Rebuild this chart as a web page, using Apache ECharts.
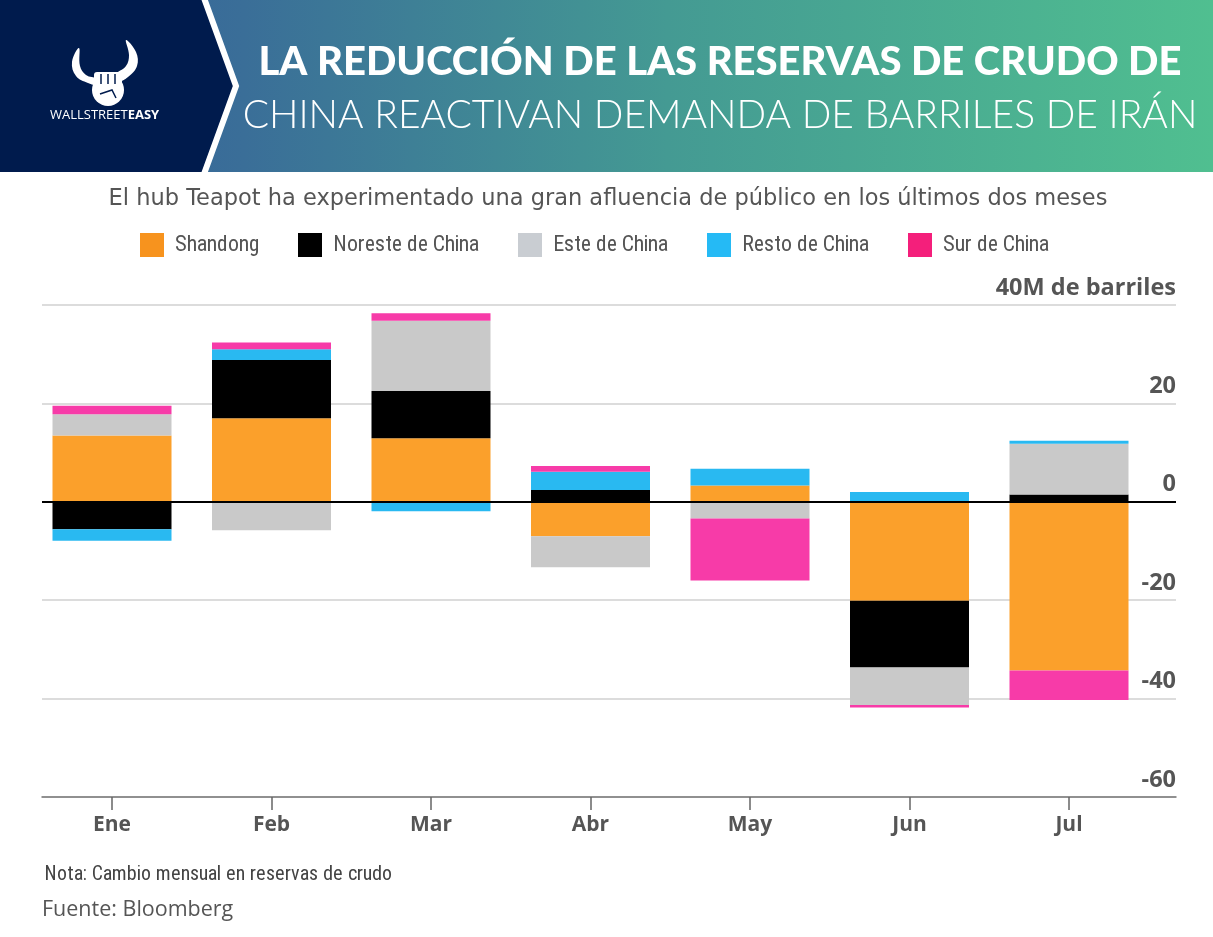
<!DOCTYPE html>
<html>
<head>
<meta charset="utf-8">
<script src="https://cdn.jsdelivr.net/npm/echarts@6/dist/echarts.min.js"></script>
<style>
html,body{margin:0;padding:0;background:#fff;}
#chart{width:1213px;height:937px;}
@font-face{
  font-family:'CondX';
  src: local('Roboto Condensed'), local('RobotoCondensed-Regular'),
       local('Liberation Sans Narrow'), local('LiberationSansNarrow-Regular'), local('LiberationSansNarrow'),
       local('DejaVu Sans Condensed'), local('DejaVuSansCondensed');
}
</style>
</head>
<body>
<div id="chart"></div>
<script>
const categories = ['Ene','Feb','Mar','Abr','May','Jun','Jul'];
const seriesNames = ['Shandong','Noreste de China','Este de China','Resto de China','Sur de China'];
const shandong = [13.5, 17.0, 12.9, -7.0, 3.3, -20.1, -34.3];
const noreste  = [-5.6, 11.8, 9.6, 2.4, 0, -13.6, 1.5];
const este     = [4.3, -5.8, 14.3, -6.3, -3.4, -7.6, 10.3];
const resto    = [-2.3, 2.2, -1.9, 3.7, 3.4, 2.0, 0.6];
const sur      = [1.7, 1.4, 1.5, 1.2, -12.6, -0.5, -6.0];
const yTicks = [-60, -40, -20, 0, 20, 40];
const yUnitLabel = '40M de barriles';

const titleLine1 = 'LA REDUCCIÓN DE LAS RESERVAS DE CRUDO DE';
const titleLine2 = 'CHINA REACTIVAN DEMANDA DE BARRILES DE IRÁN';
const subtitle = 'El hub Teapot ha experimentado una gran afluencia de público en los últimos dos meses';
const note = 'Nota: Cambio mensual en reservas de crudo';
const source = 'Fuente: Bloomberg';

const barColors = ['#FBA02B','#000000','#C9C9C9','#29B9F1','#F73BA8'];
const legendColors = ['#F7931E','#000000','#C9CDD2','#25BAF5','#F41F7B'];
const allData = [shandong, noreste, este, resto, sur];

const condensed = 'CondX,"Roboto Condensed","Liberation Sans Narrow","DejaVu Sans Condensed",sans-serif';
const openSans = '"Open Sans","Noto Sans",sans-serif';

function draw(){
const chart = echarts.init(document.getElementById('chart'), null, {renderer:'canvas'});
const barSeries = seriesNames.map((n,i)=>({
  name:n, type:'bar', stack:'total', xAxisIndex:0, yAxisIndex:0,
  data: allData[i], barWidth:119,
  itemStyle:{color:barColors[i]},
  emphasis:{disabled:true}
}));

const option = {
  animation:false,
  backgroundColor:'#ffffff',
  textStyle:{fontFamily:openSans},
  legend:{
    data: seriesNames.map((n,i)=>({name:n, itemStyle:{color:legendColors[i]}})),
    left:140, top:233, padding:0, itemWidth:24, itemHeight:24, itemGap:39,
    icon:'rect',
    textStyle:{fontFamily:condensed, fontSize:22, color:'#555', padding:[0,0,0,6]},
    selectedMode:false
  },
  grid:[
    {left:32.25, width:1116.5, top:305, height:492},
    {left:42, width:1134, top:305, height:492}
  ],
  xAxis:[
    {type:'category', gridIndex:0, data:categories, position:'bottom',
     axisLine:{show:false, onZero:false},
     axisTick:{show:true, alignWithLabel:true, length:13, lineStyle:{color:'#666', width:1.5}},
     axisLabel:{fontFamily:openSans, fontWeight:'bold', fontSize:21, color:'#555', margin:18},
     splitLine:{show:false}},
    {type:'value', gridIndex:1, min:0, max:1, position:'bottom',
     axisLine:{show:true, onZero:false, lineStyle:{color:'#777', width:1.5}},
     axisTick:{show:false}, axisLabel:{show:false}, splitLine:{show:false}}
  ],
  yAxis:[
    {type:'value', gridIndex:0, min:-60, max:40, interval:20, show:false},
    {type:'value', gridIndex:1, min:-60, max:40, interval:20, position:'right',
     axisLine:{show:false}, axisTick:{show:false},
     splitLine:{show:true, lineStyle:{color:'#D0D0D0', width:1.5}},
     axisLabel:{inside:true, margin:0, verticalAlign:'bottom', padding:[0,0,5,0],
       fontFamily:openSans, fontWeight:'bold', fontSize:23.5, color:'#555',
       formatter:(v)=> yTicks.includes(v) ? (v===40 ? yUnitLabel : String(v)) : ''}}
  ],
  series:[
    ...barSeries,
    {name:'zero', type:'line', xAxisIndex:1, yAxisIndex:1, data:[], silent:true, z:10,
     markLine:{silent:true, symbol:'none', label:{show:false},
       lineStyle:{color:'#000', width:2, type:'solid'}, data:[{yAxis:0}], z:10}}
  ],
  graphic:[
    {type:'rect', left:0, top:0, z:-1, shape:{x:0,y:0,width:1213,height:172},
     style:{fill:new echarts.graphic.LinearGradient(0,0,1,0,[
       {offset:0,color:'#35609C'},{offset:0.2,color:'#3A6E98'},{offset:0.55,color:'#449A93'},{offset:1,color:'#50BF90'}])}},
    {type:'polygon', z:1, shape:{points:[[0,0],[202,0],[234,86],[202,172],[0,172]]},
     style:{fill:'#001B4D'}},
    {type:'polyline', z:2, shape:{points:[[204,-2],[236,86],[204,174]]},
     style:{stroke:'#ffffff', lineWidth:6, fill:null}},
    {type:'polygon', z:3, shape:{smooth:0.4, points:[[79,48],[72,62],[76,76],[88,83],[97,85],[97,79],[86,75],[80,66]]}, style:{fill:'#fff'}},
    {type:'polygon', z:3, shape:{smooth:0.4, points:[[126,40],[136,52],[137,66],[128,77],[117,82],[115,75],[126,66],[129,55]]}, style:{fill:'#fff'}},
    {type:'circle', z:3, shape:{cx:108, cy:90, r:16}, style:{fill:'#fff'}},
    {type:'rect', z:3, shape:{x:94,y:72,width:28,height:14, r:3}, style:{fill:'#fff'}},
    {type:'line', z:4, shape:{x1:101,y1:74,x2:101,y2:84}, style:{stroke:'#001B4D', lineWidth:1.5}},
    {type:'line', z:4, shape:{x1:108,y1:74,x2:108,y2:84}, style:{stroke:'#001B4D', lineWidth:1.5}},
    {type:'line', z:4, shape:{x1:115,y1:74,x2:115,y2:84}, style:{stroke:'#001B4D', lineWidth:1.5}},
    {type:'polyline', z:4, shape:{points:[[100,94],[112,90],[116,98]]}, style:{stroke:'#001B4D', lineWidth:1.5, fill:null}},
    {type:'text', z:3, left:50, top:109,
     style:{text:'{a|WALLSTREET}{b|EASY}', rich:{
       a:{fontFamily:'"Open Sans",sans-serif', fontSize:13, fontWeight:'normal', fill:'#ffffff'},
       b:{fontFamily:'"Open Sans",sans-serif', fontSize:13, fontWeight:'bold', fill:'#ffffff'}}}},
    {type:'text', z:3, x:720, y:62,
     style:{text:titleLine1, fill:'#ffffff', fontFamily:'Lato,"Open Sans",sans-serif', fontWeight:900, fontSize:40,
       textAlign:'center', textVerticalAlign:'middle'}},
    {type:'text', z:3, x:720, y:115,
     style:{text:titleLine2, fill:'#ffffff', fontFamily:'Lato,"Open Sans",sans-serif', fontWeight:300, fontSize:39,
       textAlign:'center', textVerticalAlign:'middle'}},
    {type:'text', z:3, x:608, y:199,
     style:{text:subtitle, fill:'#555555', fontFamily:'"DejaVu Sans",sans-serif', fontSize:22.5,
       textAlign:'center', textVerticalAlign:'middle'}},
    {type:'text', z:3, x:44, y:874,
     style:{text:note, fill:'#444444', fontFamily:condensed, fontSize:20,
       textAlign:'left', textVerticalAlign:'middle'}},
    {type:'text', z:3, x:42, y:910,
     style:{text:source, fill:'#555555', fontFamily:openSans, fontSize:21.5,
       textAlign:'left', textVerticalAlign:'middle'}}
  ]
};
chart.setOption(option);
}

let drawn = false;
function go(){ if(!drawn){ drawn = true; draw(); } }
try {
  document.fonts.load('22px CondX').then(go, go);
  setTimeout(go, 1500);
} catch(e){ go(); }
</script>
</body>
</html>
